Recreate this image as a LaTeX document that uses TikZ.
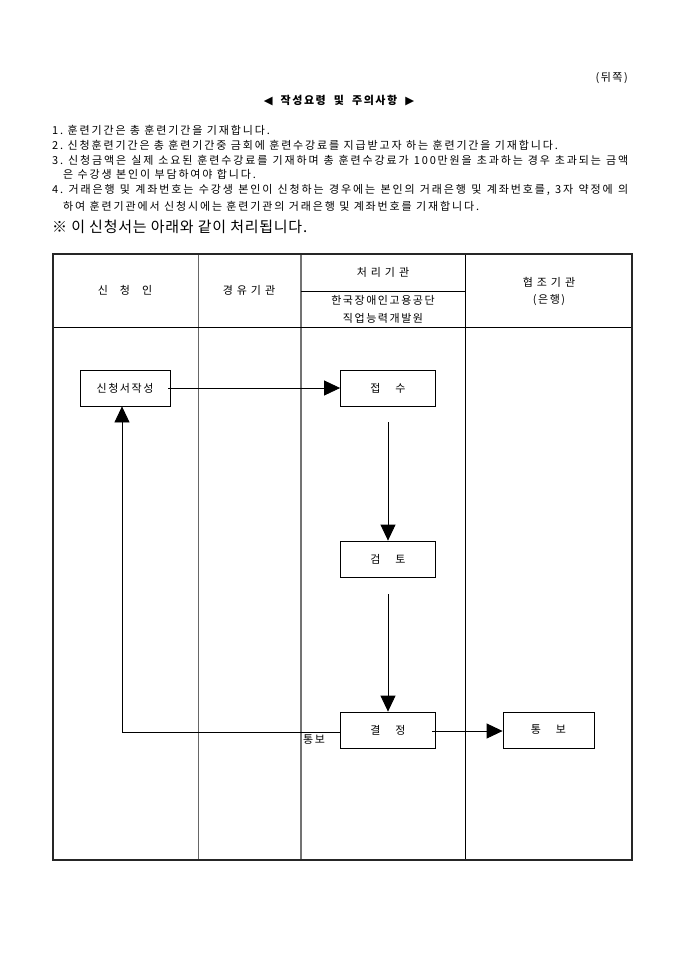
\documentclass[tikz,border=0pt]{standalone}
\usepackage{fontspec}
\setmainfont{Noto Sans CJK KR}
\newfontfamily\kr[LetterSpace=14]{Noto Sans CJK KR}
\newfontfamily\krb[LetterSpace=17]{Noto Sans CJK KR}
\newfontfamily\krn[LetterSpace=5]{Noto Sans CJK KR}
\newfontfamily\symf{DejaVu Sans}
\usetikzlibrary{arrows.meta}
\frenchspacing
\begin{document}
\begin{tikzpicture}[x=1pt,y=-1pt,
  txt/.style={inner sep=0pt, font=\krb\fontsize{11}{13}\selectfont},
  hdr/.style={inner sep=0pt, font=\kr\fontsize{11}{13}\selectfont, align=center},
  flowbox/.style={draw, line width=0.8pt, minimum width=95pt, minimum height=36pt, inner sep=0pt, font=\kr\fontsize{11}{13}\selectfont},
  grid/.style={line width=0.6pt},
  flow/.style={line width=0.8pt, -{Triangle[length=16pt,width=15pt]}},
  plain/.style={line width=0.8pt}]
\useasboundingbox (0,0) rectangle (680,962);
% header texts
\node[hdr, anchor=east] (back) at (628,78) {(뒤쪽)};
\node[inner sep=0pt, font=\kr\bfseries\fontsize{11}{13}\selectfont] (title) at (339,101) {{\symf\fontsize{11.5}{12}\selectfont◀}\ \ 작성요령 \ 및 \ 주의사항\ \ {\symf\fontsize{11.5}{12}\selectfont▶}};
\node[txt, anchor=west] (l1) at (52,130) {1. 훈련기간은 총 훈련기간을 기재합니다.};
\node[txt, anchor=west] (l2) at (52,145) {2. 신청훈련기간은 총 훈련기간중 금회에 훈련수강료를 지급받고자 하는 훈련기간을 기재합니다.};
\node[txt, anchor=west] (l3) at (52,160) {\makebox[576pt][s]{3. 신청금액은 실제 소요된 훈련수강료를 기재하며 총 훈련수강료가 100만원을 초과하는 경우 초과되는 금액}};
\node[txt, anchor=west] (l3b) at (63,174) {은 수강생 본인이 부담하여야 합니다.};
\node[txt, anchor=west] (l4) at (52,190) {\makebox[576pt][s]{4. 거래은행 및 계좌번호는 수강생 본인이 신청하는 경우에는 본인의 거래은행 및 계좌번호를, 3자 약정에 의}};
\node[txt, anchor=west] (l4b) at (63,206) {하여 훈련기관에서 신청시에는 훈련기관의 거래은행 및 계좌번호를 기재합니다.};
\node[inner sep=0pt, anchor=west, font=\krn\fontsize{15}{17}\selectfont] (note) at (52,227) {※ 이 신청서는 아래와 같이 처리됩니다.};
% table
\draw[grid, draw=black!60, line width=1pt] (198,254) -- (198,860);
\draw[grid, draw=black!55, line width=1.2pt] (301,254) -- (301,860);
\draw[grid] (465,254) -- (465,860);
\draw[grid] (53,327) -- (632,327);
\draw[grid] (301,291) -- (465,291);
\draw[line width=1.8pt, draw=black!85] (53,254) rectangle (632,860);
\node[hdr] (h1) at (125,290) {신\hspace{8pt} 청\hspace{8pt} 인};
\node[hdr] (h2) at (249,290) {경 유 기 관};
\node[hdr] (h3) at (383,272) {처 리 기 관};
\node[hdr] (h3b) at (383,300) {한국장애인고용공단};
\node[hdr] (h3c) at (383,318) {직업능력개발원};
\node[hdr] (h4) at (549,282) {협 조 기 관};
\node[hdr] (h4b) at (549,300) {(은행)};
% flow boxes
\node[flowbox, minimum width=90pt] (apply) at (125,388) {신청서작성};
\node[flowbox] (recv) at (388,388) {접 \quad 수};
\node[flowbox] (review) at (388,559) {검 \quad 토};
\node[flowbox] (decide) at (388,730) {결 \quad 정};
\node[flowbox, minimum width=91pt] (notify) at (548.5,730) {통 \quad 보};
% connectors
\coordinate (a1) at (168,388);
\draw[flow] (a1) -- (recv.west);
\coordinate (r1) at (388,422);
\draw[flow] (r1) -- (review.north);
\coordinate (r2) at (388,594);
\draw[flow] (r2) -- (decide.north);
\coordinate (d1) at (432,731);
\draw[flow] (d1) -- (notify.west |- d1);
\coordinate (fb) at (122,732);
\draw[plain] (decide.west |- fb) -- (fb);
\draw[flow] (fb) -- (fb |- apply.south);
\node[hdr, anchor=west] (fblabel) at (303,740) {통보};
\end{tikzpicture}
\end{document}
